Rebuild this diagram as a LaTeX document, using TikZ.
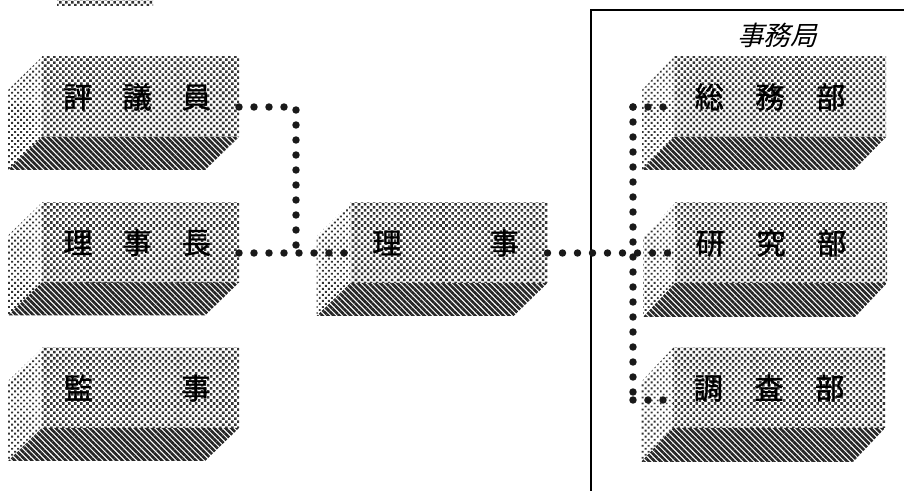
\documentclass[tikz,border=0pt]{standalone}
\usepackage{fontspec}
\newfontfamily\cjk[FakeBold=1.2]{Noto Sans CJK JP}
\newfontfamily\cjkit[FakeSlant=0.25]{Noto Sans CJK JP}
\usetikzlibrary{calc,patterns.meta}
\tikzset{
  frontpat/.style={pattern={Dots[distance=3.2pt,radius=1.35pt,angle=45]}, pattern color=black!80},
  front/.style={frontpat, inner sep=0pt, outer sep=0pt, minimum height=60pt,
    font=\cjk\fontsize{22}{22}\selectfont},
  leftbox/.style={front, minimum width=147.75pt},
  rightbox/.style={front, minimum width=159pt},
  sideface/.style={pattern={Dots[distance=3.2pt,radius=1.0pt,angle=45]}, pattern color=black!80},
  bottomface/.style={pattern={Lines[angle=-45,distance=3pt,line width=2pt]}, pattern color=black!85},
  dotline/.style={line width=5.6pt, line cap=round, dash pattern=on 0pt off 11.25pt, draw=black!90},
  frameline/.style={line width=1.3pt},
  titletext/.style={font=\cjkit\fontsize{20}{20}\selectfont, inner sep=0pt},
}
\newcommand\blockfaces[3]{%
  \path[sideface] (#1.north west) -- ++(#2,#3) -- ($(#1.south west)+(#2,#3)$) -- (#1.south west) -- cycle;
  \path[bottomface] (#1.south west) -- (#1.south east) -- ++(#2,#3) -- ($(#1.south west)+(#2,#3)$) -- cycle;
}
\begin{document}
\begin{tikzpicture}[x=0.75pt,y=-0.75pt]
\useasboundingbox (0,0) rectangle (904,491);
% partial strip at top
\path[frontpat] (57,0) rectangle (153,6);
% left column
\node[leftbox] (hyo) at (140.5,97) {評\hspace{22.5pt}議\hspace{22.5pt}員\hspace*{5pt}};
\node[leftbox] (rijicho) at (140.5,242.5) {理\hspace{22.5pt}事\hspace{22.5pt}長\hspace*{5pt}};
\node[leftbox] (kanji) at (140.5,388) {監\hspace{66pt}事\hspace*{5pt}};
\node[leftbox] (riji) at (449,243) {理\hspace{66pt}事\hspace*{5pt}};
\blockfaces{hyo}{-34}{33}
\blockfaces{rijicho}{-34}{33}
\blockfaces{kanji}{-34}{33}
\blockfaces{riji}{-34}{33}
% right column
\node[rightbox] (soumu) at (780,97) {総\hspace{23.5pt}務\hspace{23.5pt}部\hspace*{15pt}};
\node[rightbox] (kenkyu) at (781,243) {研\hspace{23.5pt}究\hspace{23.5pt}部\hspace*{15pt}};
\node[rightbox] (chousa) at (779,388) {調\hspace{23.5pt}査\hspace{23.5pt}部\hspace*{15pt}};
\blockfaces{soumu}{-32}{33}
\blockfaces{kenkyu}{-32}{34}
\blockfaces{chousa}{-32}{34}
% frame
\draw[frameline] (591,491) -- (591,10) -- (904,10);
\node[titletext] (title) at (777,35) {事務局};
% connectors
\coordinate (jA) at (296,253);
\coordinate (bt) at (633,107);
\coordinate (bb) at (633,400);
\draw[dotline] ($(hyo.east)+(0,10)$) -| (jA);
\draw[dotline] ($(rijicho.east)+(0,10.5)$) -- ($(riji.west)+(0,10)$);
\draw[dotline] ($(riji.east)+(0,10)$) -- ($(kenkyu.west)+(-3,10)$);
\draw[dotline] (bt) -- (bb);
\draw[dotline] (bt) -- ($(soumu.west)+(-8,10)$);
\draw[dotline] (bb) -- ($(chousa.west)+(-8,12)$);
\end{tikzpicture}
\end{document}
